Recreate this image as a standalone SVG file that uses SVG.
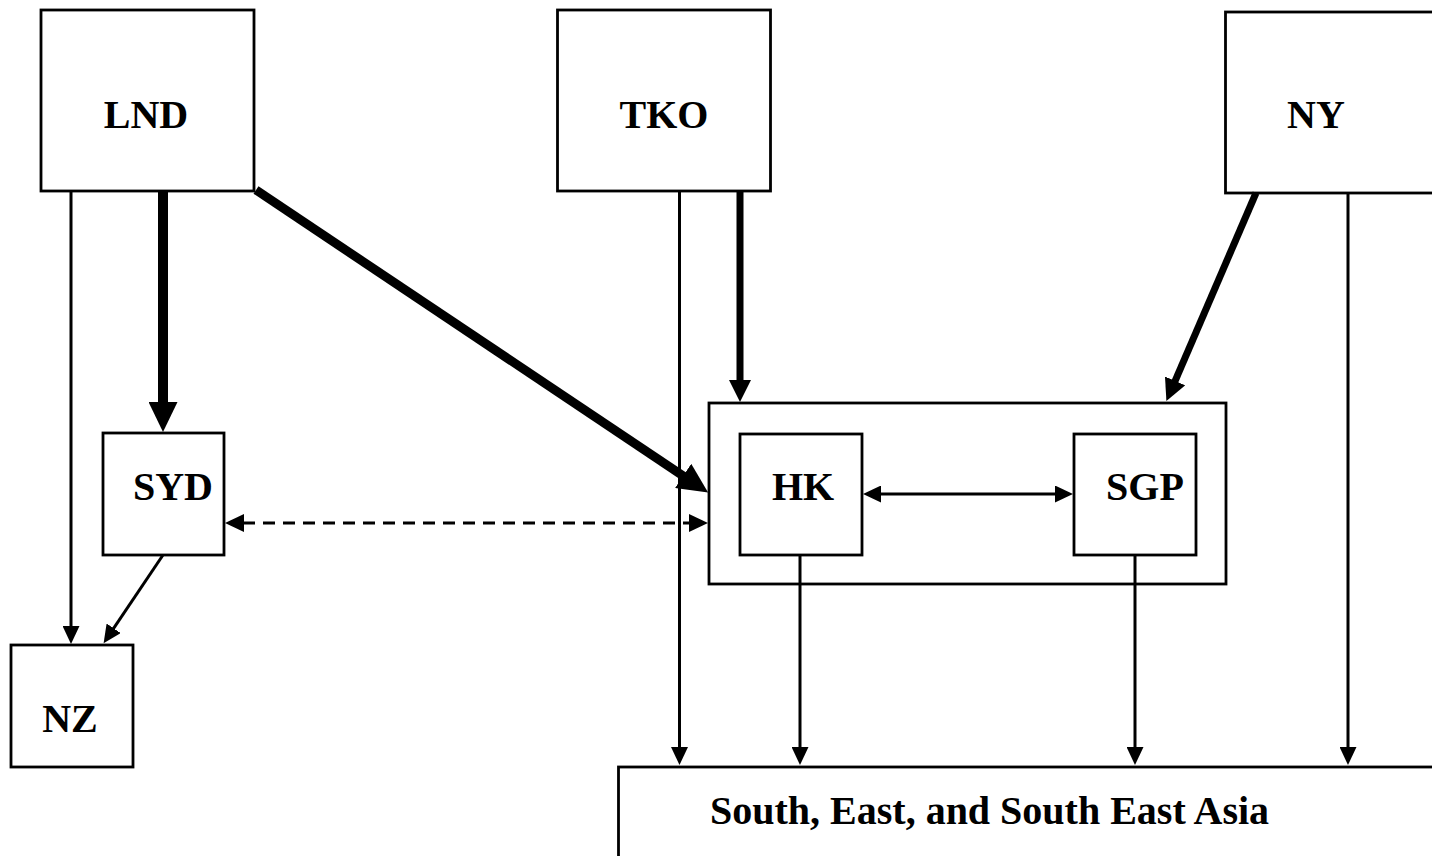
<svg xmlns="http://www.w3.org/2000/svg" width="1432" height="856" viewBox="0 0 1432 856">
<style>
.box{fill:#fff;stroke:#000;stroke-width:2.8}
.lbl{font-family:"Liberation Serif","Times New Roman",serif;font-weight:bold;font-size:40px;fill:#000}
.thin{stroke:#000;stroke-width:3;fill:none}
.mid{stroke:#000;stroke-width:7;fill:none}
.diag{stroke:#000;stroke-width:9;fill:none}
.thick{stroke:#000;stroke-width:10;fill:none}
.dash{stroke:#000;stroke-width:3;fill:none;stroke-dasharray:12 8}
</style>
<defs>
<marker id="aThin" markerUnits="userSpaceOnUse" markerWidth="19" markerHeight="17" refX="1" refY="8.5" orient="auto"><path d="M0,0 L18,8.5 L0,17 Z" fill="#000"/></marker>
<marker id="aMid" markerUnits="userSpaceOnUse" markerWidth="23" markerHeight="22" refX="1" refY="11" orient="auto"><path d="M0,0 L22,11 L0,22 Z" fill="#000"/></marker>
<marker id="aBig" markerUnits="userSpaceOnUse" markerWidth="31" markerHeight="29" refX="1" refY="14.5" orient="auto"><path d="M0,0 L30,14.5 L0,29 Z" fill="#000"/></marker>
<marker id="aDash" markerUnits="userSpaceOnUse" markerWidth="20" markerHeight="18" refX="1" refY="9" orient="auto-start-reverse"><path d="M0,0 L19,9 L0,18 Z" fill="#000"/></marker>
<marker id="aDbl" markerUnits="userSpaceOnUse" markerWidth="19" markerHeight="17" refX="1" refY="8.5" orient="auto-start-reverse"><path d="M0,0 L18,8.5 L0,17 Z" fill="#000"/></marker>
</defs>

<g id="node-LND"><rect class="box" x="41" y="10" width="213" height="181"/><text class="lbl" x="146" y="128" text-anchor="middle">LND</text></g>
<g id="node-TKO"><rect class="box" x="557.5" y="10" width="213" height="181"/><text class="lbl" x="664" y="128" text-anchor="middle">TKO</text></g>
<g id="node-NY"><rect class="box" x="1225.5" y="12" width="220" height="181"/><text class="lbl" x="1316" y="128" text-anchor="middle">NY</text></g>
<g id="node-SYD"><rect class="box" x="103" y="433" width="121" height="122"/><text class="lbl" x="173" y="500" text-anchor="middle">SYD</text></g>
<g id="node-NZ"><rect class="box" x="11" y="645" width="122" height="122"/><text class="lbl" x="70" y="732" text-anchor="middle">NZ</text></g>
<g id="node-HKSGP"><rect class="box" x="709" y="403" width="517" height="181"/></g>
<g id="node-HK"><rect class="box" x="740" y="434" width="122" height="121"/><text class="lbl" x="803" y="500" text-anchor="middle">HK</text></g>
<g id="node-SGP"><rect class="box" x="1074" y="434" width="122" height="121"/><text class="lbl" x="1145" y="500" text-anchor="middle">SGP</text></g>
<g id="node-Asia"><rect class="box" x="618.5" y="767" width="830" height="110"/><text class="lbl" x="710" y="824">South, East, and South East Asia</text></g>

<g id="connectors">
<line class="thin" x1="71" y1="192" x2="71" y2="627" marker-end="url(#aThin)"/>
<line class="thick" x1="163" y1="192" x2="163" y2="403" marker-end="url(#aBig)"/>
<line class="diag" x1="256" y1="190" x2="684" y2="476.4" marker-end="url(#aBig)"/>
<line class="thin" x1="163" y1="555" x2="113.1" y2="629.1" marker-end="url(#aThin)"/>
<line class="dash" x1="243" y1="523" x2="690" y2="523" marker-start="url(#aDash)" marker-end="url(#aDash)"/>
<line class="thin" x1="679.5" y1="192" x2="679.5" y2="748" marker-end="url(#aThin)"/>
<line class="mid" x1="740" y1="192" x2="740" y2="381" marker-end="url(#aMid)"/>
<line class="mid" x1="1256" y1="193" x2="1174.7" y2="381.8" marker-end="url(#aMid)"/>
<line class="thin" x1="1348" y1="193" x2="1348" y2="748" marker-end="url(#aThin)"/>
<line class="thin" x1="880" y1="494" x2="1056" y2="494" marker-start="url(#aDbl)" marker-end="url(#aDbl)"/>
<line class="thin" x1="800" y1="555" x2="800" y2="748" marker-end="url(#aThin)"/>
<line class="thin" x1="1135" y1="555" x2="1135" y2="748" marker-end="url(#aThin)"/>
</g>
</svg>
